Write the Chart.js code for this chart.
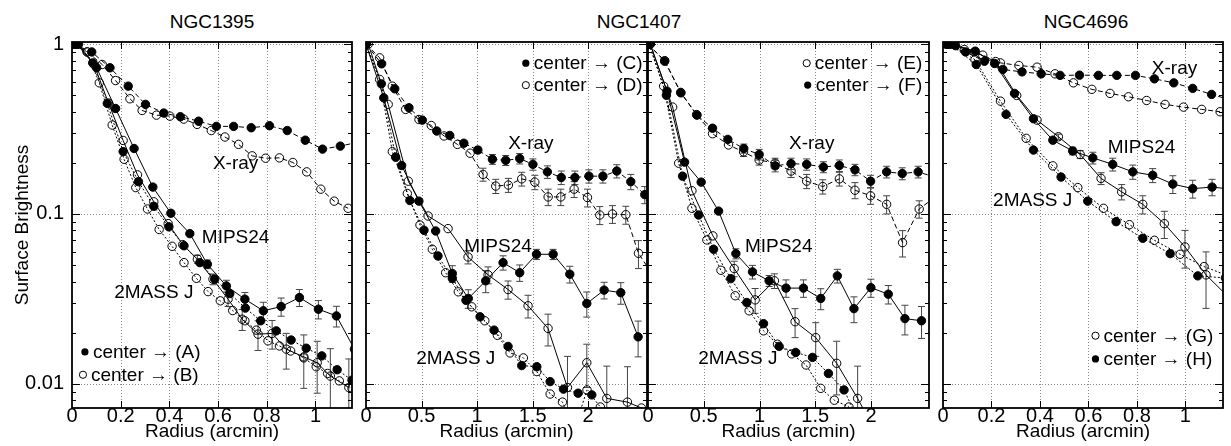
<!DOCTYPE html>
<html>
<head>
<meta charset="utf-8">
<script src="https://cdn.jsdelivr.net/npm/chart.js@4.4.0/dist/chart.umd.min.js"></script>
<style>
  body { margin: 0; background: #fff; width: 1231px; height: 446px; position: relative; overflow: hidden;
         font-family: "Liberation Sans", Arial, sans-serif; }
  canvas { position: absolute; top: 0; }
  .title { position: absolute; top: 12px; font-size: 19px; line-height: 19px; transform: translateX(-50%); white-space: nowrap; }
</style>
</head>
<body>
<div class="title" style="left:212px">NGC1395</div>
<div class="title" style="left:639px">NGC1407</div>
<div class="title" style="left:1086px">NGC4696</div>
<canvas id="p1" width="360" height="446" style="left:0px"></canvas>
<canvas id="p2" width="296" height="446" style="left:358px"></canvas>
<canvas id="p3" width="296" height="446" style="left:640px"></canvas>
<canvas id="p4" width="296" height="446" style="left:935px"></canvas>
<script>
/* ============================
   Data (radius in arcmin, normalised surface brightness)
   ============================ */

// NGC1395 : (A) filled, (B) open
const r1395XrayA  = [0.007, 0.081, 0.156, 0.231, 0.302, 0.377, 0.445, 0.52, 0.593, 0.664, 0.736, 0.811, 0.884, 0.958, 1.029, 1.102, 1.175];
const sb1395XrayA = [1.0, 0.90, 0.726, 0.566, 0.442, 0.393, 0.374, 0.352, 0.328, 0.328, 0.322, 0.331, 0.31, 0.272, 0.241, 0.251, 0.265];
const r1395XrayB  = [0.005, 0.063, 0.124, 0.179, 0.238, 0.288, 0.347, 0.402, 0.459, 0.514, 0.572, 0.628, 0.684, 0.74, 0.795, 0.852, 0.907, 0.964, 1.022, 1.077, 1.134];
const sb1395XrayB = [1.0, 0.90, 0.759, 0.611, 0.477, 0.407, 0.382, 0.377, 0.362, 0.337, 0.31, 0.284, 0.257, 0.22, 0.213, 0.214, 0.201, 0.177, 0.14, 0.119, 0.108];
const r1395MipsA  = [0.027, 0.101, 0.179, 0.255, 0.332, 0.406, 0.484, 0.556, 0.634, 0.71, 0.786, 0.859, 0.934, 1.012, 1.086, 1.16];
const sb1395MipsA = [1.0, 0.726, 0.418, 0.243, 0.144, 0.101, 0.0766, 0.0506, 0.0377, 0.0315, 0.0269, 0.0285, 0.0322, 0.0275, 0.0251, 0.016];
const err1395MipsA = [null, null, null, null, null, null, null, 0.003, 0.003, 0.003, 0.0033, 0.0035, 0.0037, 0.0034, 0.0035, null];
const r1395MipsB  = [0.02, 0.09, 0.15, 0.21, 0.269, 0.336, 0.395, 0.455, 0.515, 0.579, 0.641, 0.699, 0.764, 0.822, 0.88, 0.952, 1.007, 1.061, 1.137];
const sb1395MipsB = [1.0, 0.76, 0.45, 0.271, 0.17, 0.118, 0.0877, 0.066, 0.0542, 0.0413, 0.0315, 0.024, 0.0196, 0.0198, 0.016, 0.0144, 0.0133, 0.0111, 0.0095];
const err1395MipsB = [null, null, null, null, null, null, null, null, 0.003, 0.003, 0.003, 0.0034, 0.0039, 0.0038, 0.0038, 0.005, 0.0045, 0.005, 0.0045];
const r1395MassA  = [0.022, 0.085, 0.145, 0.21, 0.273, 0.336, 0.398, 0.46, 0.525, 0.586, 0.648, 0.712, 0.775, 0.839, 0.9, 0.962, 1.026, 1.089, 1.15];
const sb1395MassA = [1.0, 0.776, 0.448, 0.233, 0.155, 0.111, 0.084, 0.065, 0.0517, 0.0413, 0.034, 0.0279, 0.0235, 0.0205, 0.0181, 0.0162, 0.0146, 0.0121, 0.0105];
const r1395MassB  = [0.012, 0.062, 0.112, 0.165, 0.214, 0.262, 0.31, 0.358, 0.411, 0.46, 0.511, 0.559, 0.609, 0.66, 0.71, 0.757, 0.805, 0.852, 0.898, 0.952, 1.003, 1.05, 1.098, 1.15];
const sb1395MassB = [1.0, 0.9, 0.592, 0.334, 0.21, 0.143, 0.107, 0.081, 0.0645, 0.0517, 0.0418, 0.0349, 0.0308, 0.027, 0.0235, 0.0207, 0.0179, 0.0167, 0.0156, 0.0142, 0.0126, 0.0115, 0.0104, 0.0094];

// NGC1407 : (C) filled, (D) open
const r1407XrayC  = [0, 0.141, 0.259, 0.387, 0.507, 0.637, 0.754, 0.881, 1.007, 1.138, 1.258, 1.384, 1.503, 1.633, 1.758, 1.881, 2.007, 2.133, 2.258, 2.384, 2.51];
const sb1407XrayC = [1.0, 0.766, 0.546, 0.422, 0.357, 0.308, 0.29, 0.261, 0.238, 0.21, 0.207, 0.212, 0.196, 0.177, 0.164, 0.164, 0.167, 0.167, 0.179, 0.155, 0.13];
const err1407XrayC = [null, null, null, null, null, null, null, null, 0.01, 0.014, 0.014, 0.015, 0.015, 0.015, 0.015, 0.015, 0.015, 0.015, 0.016, 0.016, 0.015];
const r1407XrayD  = [0, 0.123, 0.237, 0.357, 0.477, 0.588, 0.703, 0.823, 0.937, 1.054, 1.168, 1.282, 1.402, 1.52, 1.64, 1.754, 1.874, 1.994, 2.105, 2.219, 2.339, 2.453, 2.57];
const sb1407XrayD = [1.0, 0.831, 0.566, 0.413, 0.36, 0.332, 0.288, 0.257, 0.228, 0.171, 0.146, 0.148, 0.161, 0.154, 0.126, 0.126, 0.14, 0.125, 0.0986, 0.1, 0.099, 0.0587, 0.045];
const err1407XrayD = [null, null, null, null, null, null, null, null, null, 0.015, 0.014, 0.014, 0.015, 0.015, 0.014, 0.014, 0.015, 0.015, 0.012, 0.012, 0.012, 0.011, null];
const r1407MipsC  = [0, 0.16, 0.321, 0.476, 0.627, 0.777, 0.921, 1.078, 1.234, 1.384, 1.535, 1.685, 1.835, 1.988, 2.144, 2.294, 2.45];
const sb1407MipsC = [1.0, 0.483, 0.193, 0.119, 0.0794, 0.0446, 0.0318, 0.0404, 0.0517, 0.0451, 0.0579, 0.0579, 0.0442, 0.0297, 0.0356, 0.0344, 0.0189];
const err1407MipsC = [null, null, null, null, null, 0.005, 0.004, 0.006, 0.005, 0.005, 0.004, 0.004, 0.005, 0.005, 0.004, 0.005, 0.0045];
const r1407MipsD  = [0.02, 0.2, 0.381, 0.559, 0.739, 0.919, 1.099, 1.279, 1.459, 1.639, 1.814, 1.988, 2.168, 2.354, 2.48];
const sb1407MipsD = [1.0, 0.442, 0.156, 0.0973, 0.082, 0.0558, 0.0438, 0.0359, 0.0288, 0.0212, 0.0095, 0.0133, 0.0082, 0.0078, 0.0072];
const err1407MipsD = [null, null, null, null, null, 0.005, 0.005, 0.0044, 0.0044, 0.0045, 0.005, 0.0038, 0.0045, 0.0048, null];
const r1407MassC  = [0, 0.138, 0.267, 0.395, 0.522, 0.648, 0.777, 0.9, 1.027, 1.153, 1.279, 1.402, 1.538, 1.658, 1.778, 1.91, 2.033];
const sb1407MassC = [1.0, 0.584, 0.216, 0.12, 0.0802, 0.0566, 0.0418, 0.031, 0.0248, 0.0207, 0.0166, 0.0128, 0.0126, 0.0103, 0.0093, 0.0088, 0.0086];
const r1407MassD  = [0, 0.123, 0.237, 0.372, 0.486, 0.597, 0.717, 0.831, 0.952, 1.07, 1.183, 1.297, 1.417, 1.538, 1.658, 1.769, 1.88, 1.99, 2.11, 2.23];
const sb1407MassD = [1.0, 0.62, 0.233, 0.132, 0.0861, 0.062, 0.0451, 0.0348, 0.0284, 0.0235, 0.0193, 0.0152, 0.0142, 0.0118, 0.0087, 0.0078, 0.0055, 0.0092, 0.0073, 0.006];

// NGC1407 : (E) open, (F) filled
const r1407XrayF  = [0, 0.149, 0.295, 0.439, 0.579, 0.716, 0.859, 0.997, 1.14, 1.283, 1.423, 1.573, 1.716, 1.856, 1.996, 2.14, 2.28, 2.423, 2.57];
const sb1407XrayF = [1.0, 0.794, 0.517, 0.382, 0.32, 0.275, 0.243, 0.224, 0.192, 0.198, 0.196, 0.189, 0.193, 0.182, 0.156, 0.177, 0.173, 0.177, 0.165];
const err1407XrayF = [null, null, null, null, null, null, 0.015, 0.016, 0.015, 0.015, 0.015, 0.014, 0.015, 0.014, 0.013, 0.014, 0.014, 0.014, null];
const r1407XrayE  = [0, 0.15, 0.293, 0.436, 0.579, 0.722, 0.857, 0.997, 1.14, 1.283, 1.423, 1.567, 1.716, 1.856, 1.996, 2.14, 2.283, 2.432, 2.57];
const sb1407XrayE = [1.0, 0.8, 0.52, 0.385, 0.297, 0.255, 0.232, 0.208, 0.199, 0.179, 0.156, 0.145, 0.161, 0.138, 0.128, 0.114, 0.0678, 0.107, 0.125];
const err1407XrayE = [null, null, null, null, null, null, 0.014, 0.014, 0.014, 0.015, 0.015, 0.014, 0.015, 0.015, 0.014, 0.014, 0.012, 0.0125, null];
const r1407MipsF  = [0.02, 0.17, 0.328, 0.477, 0.633, 0.788, 0.937, 1.086, 1.238, 1.394, 1.549, 1.698, 1.847, 1.999, 2.155, 2.304, 2.453];
const sb1407MipsF = [1.0, 0.529, 0.202, 0.154, 0.104, 0.0584, 0.0456, 0.0404, 0.0366, 0.0366, 0.0318, 0.0432, 0.0277, 0.0368, 0.0337, 0.0242, 0.0235];
const err1407MipsF = [null, null, null, null, null, 0.004, 0.0042, 0.003, 0.0043, 0.0043, 0.0045, 0.004, 0.0048, 0.0045, 0.0042, 0.0048, 0.005];
const r1407MipsE  = [0.02, 0.221, 0.394, 0.582, 0.773, 0.961, 1.134, 1.319, 1.504, 1.692, 1.88, 2.07];
const sb1407MipsE = [1.0, 0.426, 0.137, 0.0743, 0.0477, 0.0312, 0.0404, 0.0232, 0.0187, 0.0132, 0.0082, 0.0048];
const err1407MipsE = [null, null, null, null, 0.005, 0.0052, 0.004, 0.0045, 0.0042, 0.0046, 0.0045, null];
const r1407MassF  = [0.01, 0.165, 0.31, 0.454, 0.588, 0.743, 0.886, 1.036, 1.176, 1.325, 1.475, 1.618, 1.758, 1.9];
const sb1407MassF = [1.0, 0.5, 0.167, 0.0986, 0.062, 0.0416, 0.0301, 0.0226, 0.0166, 0.0153, 0.0143, 0.0115, 0.0092, 0.0058];
const r1407MassE  = [0.01, 0.14, 0.275, 0.394, 0.528, 0.654, 0.782, 0.907, 1.036, 1.161, 1.289, 1.417, 1.549, 1.671, 1.802, 1.93];
const sb1407MassE = [1.0, 0.566, 0.199, 0.108, 0.0703, 0.0466, 0.033, 0.0269, 0.0205, 0.0171, 0.015, 0.0129, 0.0094, 0.008, 0.0073, 0.0056];

// NGC4696 : (G) open, (H) filled
const r4696XrayH  = [0.015, 0.093, 0.171, 0.247, 0.326, 0.405, 0.483, 0.563, 0.641, 0.717, 0.794, 0.872, 0.952, 1.03, 1.108, 1.186];
const sb4696XrayH = [1.0, 0.9, 0.794, 0.71, 0.687, 0.669, 0.655, 0.657, 0.655, 0.655, 0.655, 0.625, 0.592, 0.549, 0.506, 0.47];
const r4696XrayG  = [0.012, 0.088, 0.164, 0.237, 0.313, 0.388, 0.462, 0.538, 0.614, 0.689, 0.765, 0.84, 0.916, 0.992, 1.067, 1.143];
const sb4696XrayG = [1.0, 0.93, 0.862, 0.776, 0.749, 0.732, 0.669, 0.592, 0.542, 0.513, 0.49, 0.466, 0.442, 0.426, 0.413, 0.4];
const r4696MipsH  = [0.02, 0.052, 0.133, 0.213, 0.295, 0.373, 0.453, 0.535, 0.618, 0.7, 0.783, 0.865, 0.948, 1.03, 1.11, 1.19];
const sb4696MipsH = [1.0, 0.98, 0.91, 0.77, 0.513, 0.364, 0.272, 0.235, 0.214, 0.196, 0.177, 0.169, 0.15, 0.141, 0.144, 0.14];
const err4696MipsH = [null, null, null, null, null, null, null, 0.012, 0.017, 0.017, 0.017, 0.016, 0.018, 0.017, 0.016, null];
const r4696MipsG  = [0.043, 0.13, 0.217, 0.304, 0.388, 0.476, 0.566, 0.652, 0.737, 0.824, 0.913, 0.998, 1.085, 1.172];
const sb4696MipsG = [1.0, 0.9, 0.79, 0.499, 0.357, 0.285, 0.224, 0.162, 0.135, 0.114, 0.0877, 0.064, 0.0438, 0.033];
const err4696MipsG = [null, null, null, null, null, 0.01, 0.012, 0.013, 0.014, 0.014, 0.016, 0.016, 0.016, null];
const r4696MassH  = [0.03, 0.137, 0.26, 0.373, 0.487, 0.597, 0.714, 0.824, 0.937, 1.051, 1.165];
const sb4696MassH = [1.0, 0.759, 0.386, 0.238, 0.165, 0.119, 0.0901, 0.0719, 0.0584, 0.0432, 0.042];
const r4696MassG  = [0.027, 0.132, 0.237, 0.343, 0.453, 0.556, 0.662, 0.769, 0.872, 0.978, 1.077, 1.18];
const sb4696MassG = [1.0, 0.81, 0.462, 0.279, 0.192, 0.143, 0.108, 0.0865, 0.07, 0.0579, 0.049, 0.043];

/* ============================
   Styles
   ============================ */
const FONT = '"Liberation Sans", Arial, sans-serif';
const DASH = { xray: [5, 3], mips: [], mass: [2, 2] };
const Y_MIN = 0.0072, Y_MAX = 1.03;

Chart.defaults.font.family = FONT;
Chart.defaults.font.size = 19;
Chart.defaults.color = "#000";

const isDecade = v => Math.abs(Math.log10(v) - Math.round(Math.log10(v))) < 1e-6;

function yMinorValues(min, max) {
  const out = [];
  for (let e = Math.floor(Math.log10(min)); e <= Math.ceil(Math.log10(max)); e++) {
    for (let m = 1; m <= 9; m++) {
      const v = m * Math.pow(10, e);
      if (v >= min && v <= max) out.push(v);
    }
  }
  return out;
}

function xMajorValues(opts) {
  const out = [];
  for (let v = opts.step; v <= opts.lastTick + 1e-6; v += opts.step) out.push(v);
  return out;
}

/* ============================
   Plugin: grid, error bars, frame, ticks, labels
   ============================ */
const panelDecor = {
  id: "panelDecor",
  beforeDatasetsDraw(chart) {
    const { ctx, chartArea: a, scales: { x, y } } = chart;
    const opts = chart.options.plugins.panelDecor;
    ctx.save();
    // dotted grid
    ctx.strokeStyle = "#8a8a8a";
    ctx.lineWidth = 1;
    ctx.setLineDash([1, 2]);
    ctx.beginPath();
    xMajorValues(opts).forEach(v => {
      const px = Math.round(x.getPixelForValue(v)) + 0.5;
      ctx.moveTo(px, a.top); ctx.lineTo(px, a.bottom);
    });
    yMinorValues(y.min, y.max).filter(isDecade).forEach(v => {
      const py = Math.round(y.getPixelForValue(v)) + 0.5;
      ctx.moveTo(a.left, py); ctx.lineTo(a.right, py);
    });
    ctx.stroke();
    ctx.setLineDash([]);

    // error bars
    ctx.beginPath();
    ctx.rect(a.left, a.top, a.right - a.left, a.bottom - a.top);
    ctx.clip();
    ctx.strokeStyle = "#444";
    ctx.lineWidth = 1;
    chart.data.datasets.forEach(ds => {
      if (!ds.err) return;
      ds.data.forEach((p, i) => {
        const e = ds.err[i];
        if (e == null) return;
        const px = x.getPixelForValue(p.x);
        const top = y.getPixelForValue(p.y + e);
        const bot = p.y - e > 0 ? y.getPixelForValue(p.y - e) : a.bottom + 20;
        ctx.beginPath();
        ctx.moveTo(px, top); ctx.lineTo(px, bot);
        ctx.moveTo(px - 3.5, top); ctx.lineTo(px + 3.5, top);
        ctx.moveTo(px - 3.5, bot); ctx.lineTo(px + 3.5, bot);
        ctx.stroke();
      });
    });
    ctx.restore();
  },
  afterDatasetsDraw(chart) {
    const { ctx, chartArea: a, scales: { x, y } } = chart;
    const opts = chart.options.plugins.panelDecor;
    ctx.save();
    ctx.strokeStyle = "#000";
    ctx.lineWidth = 1;
    ctx.beginPath();
    // x ticks on top and bottom edges
    xMajorValues(opts).forEach(v => {
      const px = Math.round(x.getPixelForValue(v)) + 0.5;
      ctx.moveTo(px, a.top); ctx.lineTo(px, a.top + 7);
      ctx.moveTo(px, a.bottom); ctx.lineTo(px, a.bottom - 7);
    });
    // y ticks on left and right edges
    yMinorValues(y.min, y.max).forEach(v => {
      const py = Math.round(y.getPixelForValue(v)) + 0.5;
      const len = isDecade(v) ? 8 : 4;
      ctx.moveTo(a.left, py); ctx.lineTo(a.left + len, py);
      ctx.moveTo(a.right, py); ctx.lineTo(a.right - len, py);
    });
    ctx.stroke();

    // frame
    ctx.lineWidth = 1.8;
    ctx.strokeRect(a.left, a.top, a.right - a.left, a.bottom - a.top);

    // curve labels
    ctx.fillStyle = "#000";
    ctx.font = "19px " + FONT;
    ctx.textAlign = "center";
    ctx.textBaseline = "middle";
    opts.labels.forEach(l => {
      ctx.fillText(l.text, x.getPixelForValue(l.x), y.getPixelForValue(l.y));
    });

    // legend rows
    ctx.textAlign = "left";
    opts.legend.forEach(l => {
      const px = x.getPixelForValue(l.x), py = y.getPixelForValue(l.y);
      ctx.beginPath();
      ctx.arc(px, py, 3.6, 0, Math.PI * 2);
      ctx.lineWidth = 1;
      if (l.filled) ctx.fill(); else ctx.stroke();
      ctx.fillText(l.text, px + 8, py + 1);
    });
    ctx.restore();
  }
};

/* ============================
   Panels
   ============================ */
function series(r, sb, kind, filled, err) {
  return {
    data: r.map((v, i) => ({ x: v, y: sb[i] })),
    err: err || null,
    borderColor: "#000",
    borderWidth: 1,
    borderDash: DASH[kind],
    pointRadius: 4.2,
    pointHoverRadius: 4.2,
    pointBorderWidth: 1,
    pointBorderColor: "#000",
    pointBackgroundColor: filled ? "#000" : "rgba(0,0,0,0)",
    tension: 0,
    fill: false
  };
}

function makePanel(id, cfg) {
  new Chart(document.getElementById(id), {
    type: "line",
    data: { datasets: cfg.datasets },
    options: {
      responsive: false,
      animation: false,
      devicePixelRatio: 1,
      layout: { padding: { top: 42, bottom: 0, left: cfg.padLeft, right: cfg.padRight } },
      plugins: {
        legend: { display: false },
        tooltip: { enabled: false },
        panelDecor: { step: cfg.step, lastTick: cfg.lastTick, labels: cfg.labels, legend: cfg.legend }
      },
      scales: {
        x: {
          type: "linear",
          min: 0,
          max: cfg.xMax,
          grid: { display: false, drawTicks: false },
          border: { display: false },
          ticks: {
            stepSize: cfg.step,
            includeBounds: false,
            autoSkip: false,
            maxRotation: 0,
            padding: -2,
            font: { size: 20, lineHeight: 1 },
            color: "#000",
            callback: v => v <= cfg.lastTick + 1e-6 ? String(Number(v.toFixed(2))) : ""
          },
          title: {
            display: true,
            text: "Radius (arcmin)",
            font: { size: 19, lineHeight: 1 },
            padding: { top: 0, bottom: 5 },
            color: "#000"
          },
          afterFit: s => { s.height = 38; }
        },
        y: {
          type: "logarithmic",
          min: Y_MIN,
          max: Y_MAX,
          display: cfg.yAxis,
          grid: { display: false, drawTicks: false },
          border: { display: false },
          ticks: {
            autoSkip: false,
            padding: 8,
            font: { size: 20, lineHeight: 1 },
            color: "#000",
            callback: v => isDecade(v) ? String(Number(v.toPrecision(1))) : ""
          },
          title: {
            display: true,
            text: "Surface Brightness",
            font: { size: 19, lineHeight: 1 },
            padding: { top: 13, bottom: 0 },
            color: "#000"
          },
          afterFit: s => { s.width = cfg.yAxis ? 72 : 0; }
        }
      }
    },
    plugins: [panelDecor]
  });
}

makePanel("p1", {
  padLeft: 0, padRight: 8, xMax: 1.15, step: 0.2, lastTick: 1, yAxis: true,
  datasets: [
    series(r1395XrayA, sb1395XrayA, "xray", true),
    series(r1395XrayB, sb1395XrayB, "xray", false),
    series(r1395MipsA, sb1395MipsA, "mips", true, err1395MipsA),
    series(r1395MipsB, sb1395MipsB, "mips", false, err1395MipsB),
    series(r1395MassA, sb1395MassA, "mass", true),
    series(r1395MassB, sb1395MassB, "mass", false)
  ],
  labels: [
    { text: "X-ray", x: 0.672, y: 0.197 },
    { text: "MIPS24", x: 0.672, y: 0.0726 },
    { text: "2MASS J", x: 0.336, y: 0.0344 }
  ],
  legend: [
    { filled: true, text: "center \u2192 (A)", x: 0.053, y: 0.0154 },
    { filled: false, text: "center \u2192 (B)", x: 0.045, y: 0.0113 }
  ]
});

makePanel("p2", {
  padLeft: 8, padRight: 7, xMax: 2.53, step: 0.5, lastTick: 2, yAxis: false,
  datasets: [
    series(r1407XrayC, sb1407XrayC, "xray", true, err1407XrayC),
    series(r1407XrayD, sb1407XrayD, "xray", false, err1407XrayD),
    series(r1407MipsC, sb1407MipsC, "mips", true, err1407MipsC),
    series(r1407MipsD, sb1407MipsD, "mips", false, err1407MipsD),
    series(r1407MassC, sb1407MassC, "mass", true),
    series(r1407MassD, sb1407MassD, "mass", false)
  ],
  labels: [
    { text: "X-ray", x: 1.484, y: 0.258 },
    { text: "MIPS24", x: 1.189, y: 0.064 },
    { text: "2MASS J", x: 0.808, y: 0.014 }
  ],
  legend: [
    { filled: true, text: "center \u2192 (C)", x: 1.439, y: 0.773 },
    { filled: false, text: "center \u2192 (D)", x: 1.439, y: 0.574 }
  ]
});

makePanel("p3", {
  padLeft: 8, padRight: 7, xMax: 2.52, step: 0.5, lastTick: 2, yAxis: false,
  datasets: [
    series(r1407XrayE, sb1407XrayE, "xray", false, err1407XrayE),
    series(r1407XrayF, sb1407XrayF, "xray", true, err1407XrayF),
    series(r1407MipsE, sb1407MipsE, "mips", false, err1407MipsE),
    series(r1407MipsF, sb1407MipsF, "mips", true, err1407MipsF),
    series(r1407MassE, sb1407MassE, "mass", false),
    series(r1407MassF, sb1407MassF, "mass", true)
  ],
  labels: [
    { text: "X-ray", x: 1.468, y: 0.258 },
    { text: "MIPS24", x: 1.172, y: 0.064 },
    { text: "2MASS J", x: 0.806, y: 0.014 }
  ],
  legend: [
    { filled: false, text: "center \u2192 (E)", x: 1.423, y: 0.773 },
    { filled: true, text: "center \u2192 (F)", x: 1.432, y: 0.574 }
  ]
});

makePanel("p4", {
  padLeft: 8, padRight: 8, xMax: 1.155, step: 0.2, lastTick: 1, yAxis: false,
  datasets: [
    series(r4696XrayG, sb4696XrayG, "xray", false),
    series(r4696XrayH, sb4696XrayH, "xray", true),
    series(r4696MipsG, sb4696MipsG, "mips", false, err4696MipsG),
    series(r4696MipsH, sb4696MipsH, "mips", true, err4696MipsH),
    series(r4696MassG, sb4696MassG, "mass", false),
    series(r4696MassH, sb4696MassH, "mass", true)
  ],
  labels: [
    { text: "X-ray", x: 0.955, y: 0.713 },
    { text: "MIPS24", x: 0.819, y: 0.244 },
    { text: "2MASS J", x: 0.37, y: 0.119 }
  ],
  legend: [
    { filled: false, text: "center \u2192 (G)", x: 0.629, y: 0.0192 },
    { filled: true, text: "center \u2192 (H)", x: 0.629, y: 0.014 }
  ]
});
</script>
</body>
</html>
